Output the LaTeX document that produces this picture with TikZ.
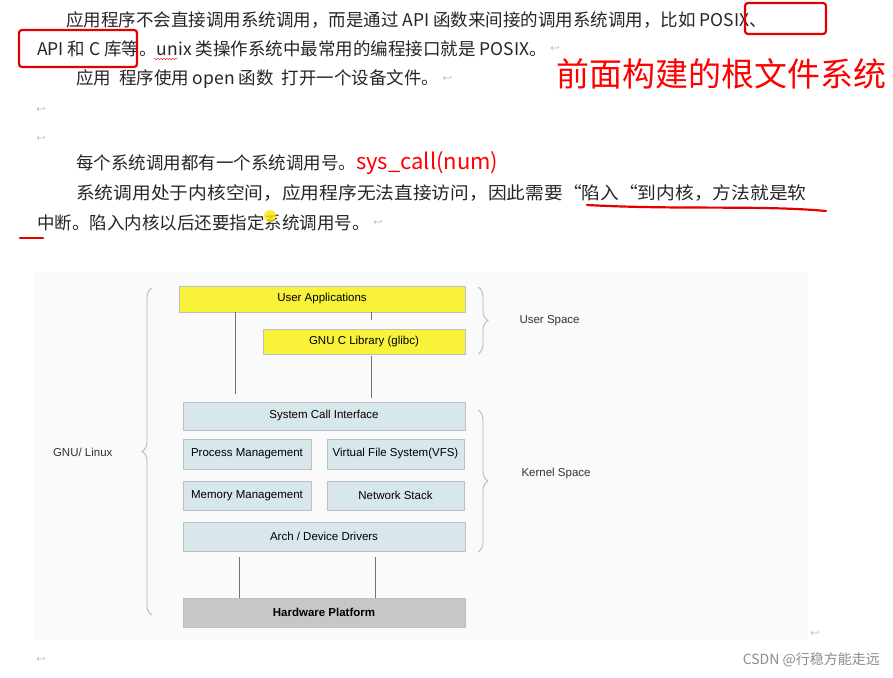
\documentclass[tikz,border=0pt]{standalone}
\usepackage{fontspec}
\setmainfont{Liberation Sans}
\newfontfamily\cjk{Noto Sans CJK SC}
\usetikzlibrary{decorations.pathreplacing,decorations.pathmorphing}
\definecolor{kfill}{HTML}{D7E7EB}
\definecolor{ufill}{HTML}{F8F23A}
\begin{document}
\begin{tikzpicture}[x=1pt,y=-1pt,
  para/.style={anchor=west,inner sep=0pt,font=\cjk\fontsize{17.5}{20}\selectfont,text=black!85},
  redmark/.style={draw=red!90!black,line width=2.2pt},
  ubox/.style={draw=black!25,fill=ufill,font=\fontsize{11.5}{12}\selectfont,inner sep=0pt},
  kbox/.style={draw=black!25,fill=kfill,font=\fontsize{11.5}{12}\selectfont,inner sep=0pt},
  hbox/.style={draw=black!25,fill=black!22,font=\bfseries\fontsize{11.5}{12}\selectfont,inner sep=0pt},
  conn/.style={draw=black!55,line width=0.8pt},
  brace/.style={draw=black!30,line width=0.8pt,decorate,decoration={brace,amplitude=10pt}},
  lbl/.style={font=\fontsize{11.5}{12}\selectfont,text=black!80},
  ret/.style={font=\fontsize{8}{8}\selectfont,text=black!50,inner sep=0pt}]
\useasboundingbox (0,0) rectangle (893,677);
\fill[white] (0,0) rectangle (893,677);
% text
\node[para] (l1) at (66,20) {应用程序不会直接调用系统调用，而是通过 API 函数来间接的调用系统调用，比如 POSIX、};
\node[para] (l2) at (37,49) {API 和 C 库等。unix 类操作系统中最常用的编程接口就是 POSIX。};
\node[ret] at (l2.east) [xshift=8pt] {$\hookleftarrow$};
\node[para] (l3) at (76,79) {应用\ \ 程序使用 open 函数\ \ 打开一个设备文件。};
\node[ret] at (l3.east) [xshift=8pt] {$\hookleftarrow$};
\node[ret] at (41,110) {$\hookleftarrow$};
\node[ret] at (41,139) {$\hookleftarrow$};
\node[para] (l4) at (76,163) {每个系统调用都有一个系统调用号。\textcolor{red}{\fontsize{22}{24}\selectfont sys\_call(num)}};
\node[para] (l5) at (76,193) {\scalebox{1.07}[1]{系统调用处于内核空间，应用程序无法直接访问，因此需要“陷入“到内核，方法就是软}};
\node[para] (l6) at (37,223) {中断。陷入内核以后还要指定系统调用号。};
\node[ret] at (l6.east) [xshift=8pt] {$\hookleftarrow$};
\node[anchor=west,inner sep=0pt,font=\cjk\fontsize{33}{35}\selectfont,text=red] (big) at (556,74) {前面构建的根文件系统};
% red marks
\draw[redmark,rounded corners=3pt] (745,3) rectangle (826,34);
\draw[redmark,rounded corners=3pt] (19,30) rectangle (137,67);
\draw[redmark,line cap=round] (587,205) .. controls (680,210) and (760,205) .. (826,211);
\draw[redmark,line cap=round] (20,238) -- (43,238);
\draw[red,decorate,decoration={snake,amplitude=0.7pt,segment length=3pt}] (154,59) -- (178,59);
\fill[yellow!90!orange,opacity=0.8] (270,216) circle (6);
% diagram background
\fill[black!2] (35,272) rectangle (808,640);
\node[ret] at (815,634) {$\hookleftarrow$};
\node[ret] at (41,660) {$\hookleftarrow$};
% boxes
\node[ubox,minimum width=286pt,minimum height=26pt] (ua) at (322,299) {User Applications};
\node[ubox,minimum width=202pt,minimum height=25pt] (glibc) at (364,341.5) {GNU C Library (glibc)};
\node[kbox,minimum width=282pt,minimum height=28pt] (sci) at (324,416) {System Call Interface};
\node[kbox,minimum width=128pt,minimum height=30pt] (pm) at (247,454) {Process Management};
\node[kbox,minimum width=137pt,minimum height=30pt] (vfs) at (395.5,454) {Virtual File System(VFS)};
\node[kbox,minimum width=128pt,minimum height=29pt] (mm) at (247,495.5) {Memory Management};
\node[kbox,minimum width=137pt,minimum height=29pt] (ns) at (395.5,495.5) {Network Stack};
\node[kbox,minimum width=282pt,minimum height=29pt] (ad) at (324,536.5) {Arch / Device Drivers};
\node[hbox,minimum width=282pt,minimum height=29pt] (hw) at (324,612.5) {Hardware Platform};
% connectors
\coordinate (a1) at (235,394);
\draw[conn] (ua.south -| a1) -- (a1);
\coordinate (a2) at (371,320);
\draw[conn] (ua.south -| a2) -- (a2);
\coordinate (a3) at (371,356);
\coordinate (a4) at (371,398);
\draw[conn] (a3) -- (a4);
\coordinate (b1) at (239,557);
\draw[conn] (b1) -- (hw.north -| b1);
\coordinate (b2) at (375,557);
\draw[conn] (b2) -- (hw.north -| b2);
% braces
\draw[brace] (152,615) -- (152,288);
\node[lbl,anchor=east] (gl) at (116,452) {GNU/ Linux};
\draw[brace] (478,287) -- (478,354);
\node[lbl,anchor=west] (us) at (516,321) {User Space};
\draw[brace] (478,410) -- (478,552);
\node[lbl,anchor=west] (ks) at (518,474) {Kernel Space};
% watermark
\node[anchor=east,inner sep=0pt,font=\cjk\fontsize{14}{15}\selectfont,text=black!45] (wm) at (880,660) {CSDN @行稳方能走远};
\end{tikzpicture}
\end{document}
